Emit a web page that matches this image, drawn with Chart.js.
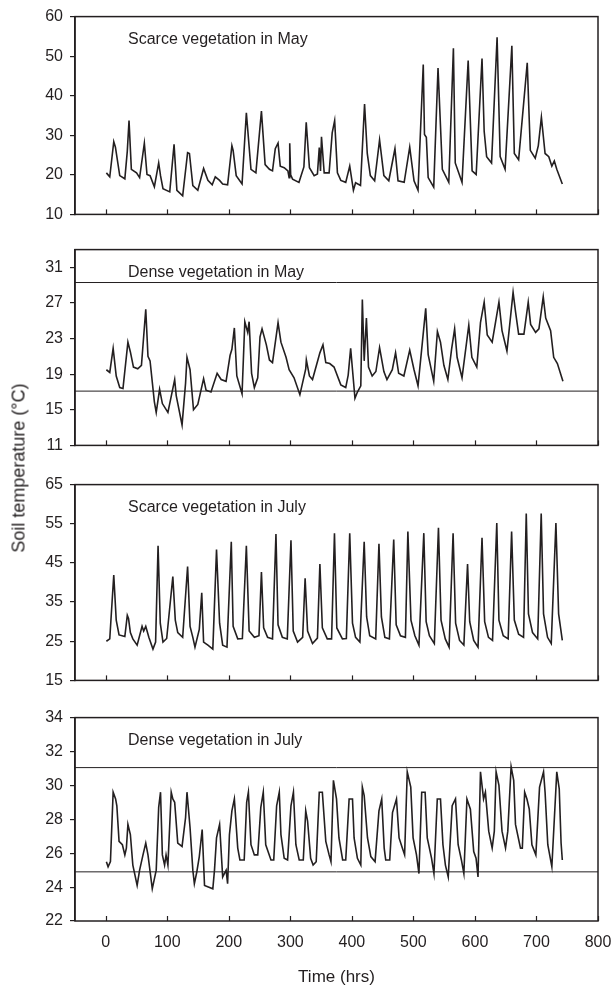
<!DOCTYPE html>
<html>
<head>
<meta charset="utf-8">
<title>Soil temperature</title>
<script src="https://cdn.jsdelivr.net/npm/chart.js@4.4.1/dist/chart.umd.min.js"></script>
<style>
  body { margin: 0; background: #fff; }
  #wrap { position: relative; width: 613px; height: 988px; }
  #wrap canvas { position: absolute; left: 0; }
  #ylab {
    position: absolute; left: 19px; top: 468px;
    transform: translate(-50%, -50%) rotate(-90deg);
    font: 18px "Liberation Sans", Arial, sans-serif; color: #231f20; white-space: nowrap;
  }
</style>
</head>
<body>
<div id="wrap">
  <canvas id="c1" width="613" height="231" style="top:0px"></canvas>
  <canvas id="c2" width="613" height="229" style="top:233px"></canvas>
  <canvas id="c3" width="613" height="229" style="top:468px"></canvas>
  <canvas id="c4" width="613" height="287" style="top:701px"></canvas>
  <div id="ylab">Soil temperature (°C)</div>
</div>
<script>
// Время (часы) и температура почвы
const hoursScarceMay = [1,6.5,13,15.7,22.7,31,35,37.8,41.6,50,55,62.7,67,72,79,86,89,93,104,111,115.6,125,133,136,141.5,149.6,159,166,173,178,185,190,198,205,207,212,221.5,228.5,236,244,253,259,266,271,275.5,280,283.6,290,296,298,299,300.5,303.6,314,322,325.8,331,338.7,344,347,349,350.6,355,363,368,372,376.5,382,390,396.5,402.5,406,414,420.6,425,430,437,445,452,460,470,475,485,494,501,507.5,516,518,521,524,533,540,547,557.5,565,568,579,589,595.4,602,611.5,615,619,627,636,641,649,660,664,671,685,690,698,703,708,714,720,725,729,733,742];
const tempScarceMay  = [20.5,19.5,28.4,27,19.8,19,26,33.7,21.4,20.5,19.3,28,20.1,19.8,17,23,19.8,16.5,15.7,27.7,16.1,14.7,25.6,25.4,17.3,16.1,21.6,18.6,17.5,19.5,18.6,17.7,17.5,27.4,26.2,19.8,17.7,35.7,21.4,20.5,36.1,22.6,21.4,21,26.6,28,22.2,21.8,21,19.3,28,20,18.9,18.1,22,33.3,21.8,19.8,20.2,26.9,21,29.6,20.5,20.5,30.6,33.7,20.5,18.6,18.1,22.2,16.1,18,17.3,37.9,25.4,19.8,18.5,28.8,19.8,18.5,26.6,18.5,18.1,27,18.5,16.1,47.9,30.2,29.5,19.3,16.9,47,21.4,18.1,52,23,18.1,48.9,21,20.1,49.4,31,24.6,23,54.8,24.6,21.4,52.6,25.4,23.8,48.3,26.2,24.2,27.4,34.6,25.4,24.6,22.2,23.5,21.4,17.7];

const hoursDenseMay = [1,6.5,12,17,22.7,28,36,40,45,52,58,65,68.6,72,79,82,87.5,92,101,112,114.5,124,129.7,132,137,142.6,149.6,159,163,171,181,187.5,195.5,202,205,209,213,221.5,226,230.7,233,237,241.5,247,250.7,254,261,266,271,280,284.7,293,298,306,315.5,325,326,331,336,348,353,357.6,364,371,382,390,394,398,401,405,409,414.5,417,420,423.6,427,433,439,445,452,457,465.7,471,476,484.5,494,501,507.5,514.6,520,524,533,539,544,549.5,556,562,567,571,579,590,595,603,609,615,620,628,639,644,652,662,666,671,679.6,686.6,690.5,698.6,704,711,715,723,728,734,743];
const tempDenseMay  = [19.5,19.2,21.9,18.8,17.5,17.4,22.6,21.5,19.8,19.6,20,26.3,21,20.5,15.9,14.7,17.3,15.7,14.7,18.4,16.6,13.3,18,20.9,19.5,15,15.6,18.5,17.2,17,19.1,18.4,18.2,21.1,21.8,24.2,18.8,16.8,24.9,23.7,24.9,19.1,17.5,18.6,23.2,24.1,22.3,20.6,20.3,24.8,22.6,20.9,19.5,18.6,16.7,19.6,20.6,18.8,18.4,21.4,22.3,20.3,20.2,19.8,17.8,17.5,18.9,21.9,19.5,16.3,17,17.7,27.4,20.5,25.3,19.8,18.8,19.3,22,19.3,18.4,19.5,21.4,19.1,18.8,21.7,19.5,17.7,22.6,26.4,21.2,18.2,23.8,22.6,20,18.4,21.8,24.1,20.9,18.6,24.5,20.9,19.8,24.8,27.1,23.4,22.6,27.1,23.9,21.6,28.2,26,23.5,23.5,27.1,24.6,23.7,24.1,27.7,25.3,23.9,20.9,20.2,18.2];

const hoursScarceJuly = [1,6.5,13,17,21.6,31,35,37,40,44,51,59,61.6,65,70,76.7,81,85,88.6,93,99,109,113,117,125,133,137,141.5,145,152,156,159,166,174,180,185,190,197,204,207,214.5,222,228.5,233,241.5,249,253,256.6,263,271,276.6,280,287,295,301,304.7,311.7,320,324,328,336,344,348,352,360,367,371.7,375.5,384.6,391,396.5,401,406,413,420,424,429,438.7,444,448,453.6,461,468,472,479,487,491,496,502.4,509,516.9,520.7,526,534,540.7,544.9,551.8,558,564.5,568.6,575,582,588,591.5,598,605,611.5,615.8,622,628.6,635.5,639,646,654,659.6,664,671,679,683.4,687,693.6,702,707.7,711.5,718,724,731.6,736,742];
const tempScarceJuly  = [25,25.6,41.9,30.4,26.6,26.2,31.6,30.8,27.2,25.6,24,28.8,27.6,28.8,26,23,24.8,49.4,29.6,24.8,25.7,41.5,30.4,27.2,26,44.1,28.8,26,23.5,28,37.4,24.8,24,23,48.4,29.6,24,23.5,50.4,28.8,25.6,25.7,49.4,27.6,26,26.4,42.7,28.4,26,25.6,52.4,29.2,26,25.6,50.8,27.6,24.8,26,41.1,27.6,24.4,25.8,44.7,28.4,25.6,25.6,52.6,28.4,25.6,25.7,52.6,29.6,26,24.8,50.4,31.2,26.4,25.6,49.9,31.2,26,25.6,51,29.2,26.4,26,53,30.4,26.4,24,52.6,30,26.4,24.4,54,30.4,25.6,23.5,52.6,29.6,25.2,24,44.7,30,25.2,23.5,51.4,30,26,25.2,55.2,30.4,26.4,25.6,53,30.4,26.8,26,57.6,32,27.2,25.6,57.6,32,26,24.4,55.2,32,25.2];

const hoursDenseJuly = [1,3.8,7.6,12,16,18,21.6,27,31,33.5,36,40,44,51,55,60.5,65,68.6,75.6,82,86,89,92,95.6,98,101,106.4,109,112,117,124,129.7,132,137,141.5,144,148,152,156.7,160.5,174,176.7,180,185,190,195.6,198,201,205,209,214.5,218,225,229,231.8,236,241.5,247,252,256,260,268.5,273,277.7,282,284.7,290,295.5,301,305,309,314.4,321,325,328,333,337,342,347,352,357.6,363,366,370,375,379,385,390,395.5,401,403.6,409,414.5,417,420,425.4,430.8,437.7,444,448.5,452.5,455,461.5,466,472.5,476.7,482,485.7,490,495.7,499.5,505,509,513.5,519,522.5,529.5,533.4,538.8,544,548,552,556.6,563,568.4,572.7,578,582,587,592.6,598,601.8,605,609,614,617,622.4,628,631.5,634.4,639,644,649.7,653.4,658.8,663,665.9,674,677,680.8,684.5,688.3,692.6,699,705,711.5,714,718.4,725,733,737,740,742];
const tempDenseJuly  = [25.5,25.2,25.5,29.6,29.2,28.8,26.7,26.5,25.9,26.3,27.7,27.1,25.3,24.1,25,25.9,26.6,25.9,23.9,25,28.7,29.6,25.9,25.3,25.9,25.3,29.6,29.2,29,26.6,26.4,28.1,29.6,27.5,25,24.2,24.9,25.8,27.4,24.1,23.9,25,26.9,27.7,24.6,25,24.2,27.1,28.5,29.2,26.3,25.6,25.6,29,29.6,26.5,25.9,25.9,28.7,29.6,26.5,25.6,25.6,28.8,29.6,27.1,25.7,25.6,28.8,29.6,26.5,25.6,25.6,28.5,27.9,25.7,25.3,25.5,29.6,29.6,26.7,25.9,25.5,30.3,29.2,26.9,25.6,25.6,29.2,29.2,26.9,25.7,25.3,29.9,29.4,26.9,25.8,25.5,28.5,29.2,26.3,25.6,25.6,28.4,29.2,26.9,26.3,25.9,30.8,29.9,26.9,25.9,24.8,29.6,29.6,26.9,25.7,24.8,29.2,29.2,26.5,25.3,24.6,28.8,29.2,26.5,25.6,24.8,29.2,28.6,26.1,25.7,24.6,30.8,29.2,29.6,27.3,26.3,27.3,30.8,30,27.3,26.3,27.3,31.1,30.3,27.7,26.3,26.3,29.6,29.2,28.6,26.5,25.9,29.9,30.8,29.6,26.5,25.2,30.8,29.8,26.6,25.6];

// Горизонтальные линии на панелях с густой растительностью
const limitsDenseMay = [17.1, 29.3];
const limitsDenseJuly = [24.9, 31.05];

// Деления осей
const xTicks = [0, 100, 200, 300, 400, 500, 600, 700, 800];
const yTicksScarceMay = [10, 20, 30, 40, 50, 60];
const yTicksDenseMay = [11, 15, 19, 23, 27, 31];
const yTicksScarceJuly = [15, 25, 35, 45, 55, 65];
const yTicksDenseJuly = [22, 24, 26, 28, 30, 32, 34];

const INK = '#231f20';
const FONT = '"Liberation Sans", Arial, sans-serif';
Chart.defaults.font.family = FONT;
Chart.defaults.color = INK;

// Рамка, внутренние деления оси X и подпись панели
const framePlugin = {
  id: 'frame',
  afterDraw(chart, args, opts) {
    const { ctx, chartArea: a } = chart;
    const x = chart.scales.x;
    ctx.save();
    ctx.strokeStyle = INK;
    ctx.lineWidth = 1.5;
    ctx.strokeRect(a.left, a.top, a.right - a.left, a.bottom - a.top);
    ctx.lineWidth = 1.2;
    xTicks.forEach(v => {
      const px = Math.round(x.getPixelForValue(v)) + 0.5;
      ctx.beginPath();
      ctx.moveTo(px, a.bottom);
      ctx.lineTo(px, a.bottom - 5);
      ctx.stroke();
    });
    ctx.fillStyle = INK;
    ctx.font = '16px ' + FONT;
    ctx.textBaseline = 'middle';
    ctx.fillText(opts.text, a.left + 53, a.top + 23);
    ctx.restore();
  }
};

function toPoints(hours, temps) {
  return hours.map((h, i) => ({ x: h, y: temps[i] }));
}

function createPanel(id, title, hours, temps, yMin, yMax, yTicks, limits, isBottom) {
  const datasets = [{
    data: toPoints(hours, temps),
    borderColor: INK,
    borderWidth: 1.6,
    pointRadius: 0,
    tension: 0
  }];
  limits.forEach(v => {
    datasets.push({
      data: [{ x: -50, y: v }, { x: 800, y: v }],
      borderColor: INK,
      borderWidth: 1,
      pointRadius: 0
    });
  });

  const xScale = {
    type: 'linear',
    min: -50,
    max: 800,
    display: isBottom
  };
  if (isBottom) {
    Object.assign(xScale, {
      grid: { display: false, drawTicks: false },
      border: { display: false },
      ticks: { font: { size: 16 }, padding: 12, maxRotation: 0 },
      title: { display: true, text: 'Time (hrs)', font: { size: 17 }, padding: 0 },
      afterBuildTicks: s => { s.ticks = xTicks.map(v => ({ value: v })); },
      afterFit: s => {
        s.height = 67;
        s.paddingLeft = 0;
        s.paddingRight = 0; // не сужать область графика из-за подписи 800
      }
    });
  }

  new Chart(document.getElementById(id), {
    type: 'line',
    data: { datasets },
    plugins: [framePlugin],
    options: {
      responsive: false,
      animation: false,
      events: [],
      layout: { padding: { top: 13, bottom: isBottom ? 0 : 10, left: 0, right: 15 } },
      plugins: {
        legend: { display: false },
        tooltip: { enabled: false },
        frame: { text: title }
      },
      scales: {
        x: xScale,
        y: {
          min: yMin,
          max: yMax,
          grid: { drawOnChartArea: false, tickLength: 5, color: INK, lineWidth: 1.2 },
          border: { display: true, color: INK, width: 1.5 },
          ticks: { font: { size: 16 }, padding: 7 },
          afterBuildTicks: s => { s.ticks = yTicks.map(v => ({ value: v })); },
          afterFit: s => { s.width = 75; }
        }
      }
    }
  });
}

createPanel('c1', 'Scarce vegetation in May', hoursScarceMay, tempScarceMay, 10, 60, yTicksScarceMay, [], false);
createPanel('c2', 'Dense vegetation in May', hoursDenseMay, tempDenseMay, 11, 33, yTicksDenseMay, limitsDenseMay, false);
createPanel('c3', 'Scarce vegetation in July', hoursScarceJuly, tempScarceJuly, 15, 65, yTicksScarceJuly, [], false);
createPanel('c4', 'Dense vegetation in July', hoursDenseJuly, tempDenseJuly, 22, 34, yTicksDenseJuly, limitsDenseJuly, true);
</script>
</body>
</html>
